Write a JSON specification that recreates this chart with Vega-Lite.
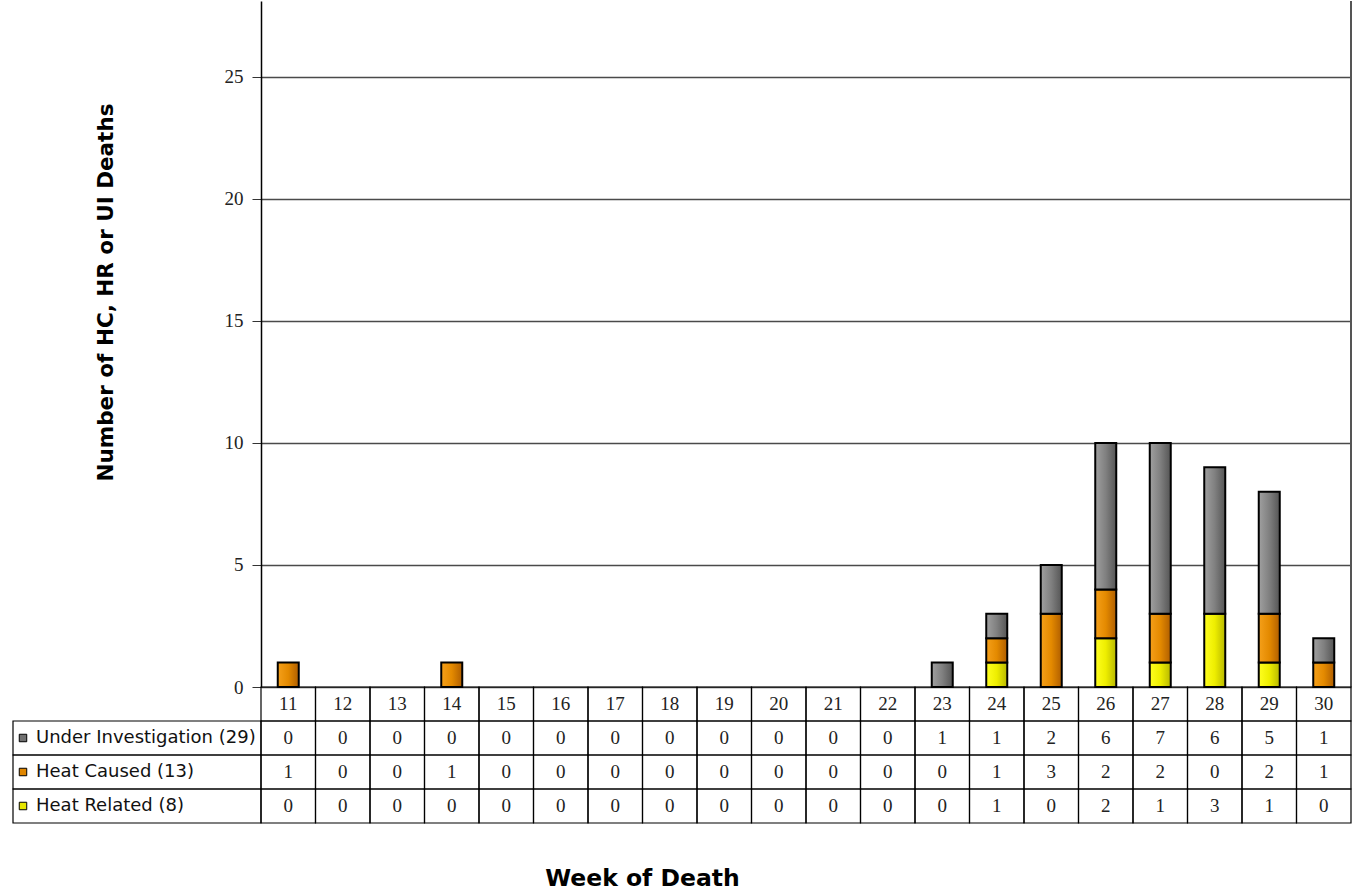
{
  "$schema": "https://vega.github.io/schema/vega-lite/v6.json",
  "background": "white",
  "padding": {"left": 12, "top": 0, "right": 0, "bottom": 0},
  "autosize": {"type": "pad"},
  "config": {"view": {"stroke": null}},
  "datasets": {
    "deaths": [
      {"week": 11, "series": "Under Investigation (29)", "count": 0},
      {"week": 12, "series": "Under Investigation (29)", "count": 0},
      {"week": 13, "series": "Under Investigation (29)", "count": 0},
      {"week": 14, "series": "Under Investigation (29)", "count": 0},
      {"week": 15, "series": "Under Investigation (29)", "count": 0},
      {"week": 16, "series": "Under Investigation (29)", "count": 0},
      {"week": 17, "series": "Under Investigation (29)", "count": 0},
      {"week": 18, "series": "Under Investigation (29)", "count": 0},
      {"week": 19, "series": "Under Investigation (29)", "count": 0},
      {"week": 20, "series": "Under Investigation (29)", "count": 0},
      {"week": 21, "series": "Under Investigation (29)", "count": 0},
      {"week": 22, "series": "Under Investigation (29)", "count": 0},
      {"week": 23, "series": "Under Investigation (29)", "count": 1},
      {"week": 24, "series": "Under Investigation (29)", "count": 1},
      {"week": 25, "series": "Under Investigation (29)", "count": 2},
      {"week": 26, "series": "Under Investigation (29)", "count": 6},
      {"week": 27, "series": "Under Investigation (29)", "count": 7},
      {"week": 28, "series": "Under Investigation (29)", "count": 6},
      {"week": 29, "series": "Under Investigation (29)", "count": 5},
      {"week": 30, "series": "Under Investigation (29)", "count": 1},
      {"week": 11, "series": "Heat Caused (13)", "count": 1},
      {"week": 12, "series": "Heat Caused (13)", "count": 0},
      {"week": 13, "series": "Heat Caused (13)", "count": 0},
      {"week": 14, "series": "Heat Caused (13)", "count": 1},
      {"week": 15, "series": "Heat Caused (13)", "count": 0},
      {"week": 16, "series": "Heat Caused (13)", "count": 0},
      {"week": 17, "series": "Heat Caused (13)", "count": 0},
      {"week": 18, "series": "Heat Caused (13)", "count": 0},
      {"week": 19, "series": "Heat Caused (13)", "count": 0},
      {"week": 20, "series": "Heat Caused (13)", "count": 0},
      {"week": 21, "series": "Heat Caused (13)", "count": 0},
      {"week": 22, "series": "Heat Caused (13)", "count": 0},
      {"week": 23, "series": "Heat Caused (13)", "count": 0},
      {"week": 24, "series": "Heat Caused (13)", "count": 1},
      {"week": 25, "series": "Heat Caused (13)", "count": 3},
      {"week": 26, "series": "Heat Caused (13)", "count": 2},
      {"week": 27, "series": "Heat Caused (13)", "count": 2},
      {"week": 28, "series": "Heat Caused (13)", "count": 0},
      {"week": 29, "series": "Heat Caused (13)", "count": 2},
      {"week": 30, "series": "Heat Caused (13)", "count": 1},
      {"week": 11, "series": "Heat Related (8)", "count": 0},
      {"week": 12, "series": "Heat Related (8)", "count": 0},
      {"week": 13, "series": "Heat Related (8)", "count": 0},
      {"week": 14, "series": "Heat Related (8)", "count": 0},
      {"week": 15, "series": "Heat Related (8)", "count": 0},
      {"week": 16, "series": "Heat Related (8)", "count": 0},
      {"week": 17, "series": "Heat Related (8)", "count": 0},
      {"week": 18, "series": "Heat Related (8)", "count": 0},
      {"week": 19, "series": "Heat Related (8)", "count": 0},
      {"week": 20, "series": "Heat Related (8)", "count": 0},
      {"week": 21, "series": "Heat Related (8)", "count": 0},
      {"week": 22, "series": "Heat Related (8)", "count": 0},
      {"week": 23, "series": "Heat Related (8)", "count": 0},
      {"week": 24, "series": "Heat Related (8)", "count": 1},
      {"week": 25, "series": "Heat Related (8)", "count": 0},
      {"week": 26, "series": "Heat Related (8)", "count": 2},
      {"week": 27, "series": "Heat Related (8)", "count": 1},
      {"week": 28, "series": "Heat Related (8)", "count": 3},
      {"week": 29, "series": "Heat Related (8)", "count": 1},
      {"week": 30, "series": "Heat Related (8)", "count": 0}
    ]
  },
  "width": 1090,
  "height": 686,
  "resolve": {"scale": {"x": "independent", "y": "independent"}},
  "layer": [
    {
      "data": {"name": "deaths"},
      "transform": [
        {"calculate": "indexof(['Heat Related (8)','Heat Caused (13)','Under Investigation (29)'], datum.series)", "as": "k"},
        {"stack": "count", "groupby": ["week"], "sort": [{"field": "k", "order": "ascending"}], "as": ["y0", "y1"]},
        {"filter": "datum.count > 0"}
      ],
      "encoding": {
        "x": {
          "field": "week",
          "type": "ordinal",
          "axis": null,
          "scale": {"domain": [11,12,13,14,15,16,17,18,19,20,21,22,23,24,25,26,27,28,29,30], "paddingInner": 0, "paddingOuter": 0}
        },
        "y": {
          "field": "y1",
          "type": "quantitative",
          "scale": {"domain": [0, 28.11], "nice": false, "zero": true},
          "axis": {
            "values": [0, 5, 10, 15, 20, 25],
            "grid": true,
            "gridColor": "#4a4a4a",
            "gridWidth": 1.5,
            "domainColor": "black",
            "domainWidth": 1.5,
            "tickColor": "#333333",
            "tickSize": 9,
            "tickWidth": 1,
            "labelFont": "Liberation Serif",
            "labelFontSize": 19,
            "labelColor": "#222222",
            "labelPadding": 9,
            "title": "Number of HC, HR or UI Deaths",
            "titleFont": "DejaVu Sans",
            "titleFontSize": 21.5,
            "titleFontWeight": "bold",
            "titleColor": "black",
            "titleAngle": 270,
            "titleAlign": "center",
            "titleBaseline": "middle",
            "titleX": -155,
            "titleY": 291
          }
        },
        "y2": {"field": "y0"}
      },
      "layer": [
        {
          "transform": [{"filter": "datum.k == 0"}],
          "mark": {
            "type": "bar", "size": 21, "stroke": "black", "strokeWidth": 2,
            "fill": {"gradient": "linear", "x1": 0, "y1": 0, "x2": 1, "y2": 0,
              "stops": [{"offset": 0, "color": "#ffff20"}, {"offset": 0.5, "color": "#eeee00"}, {"offset": 1, "color": "#b8b800"}]}
          }
        },
        {
          "transform": [{"filter": "datum.k == 1"}],
          "mark": {
            "type": "bar", "size": 21, "stroke": "black", "strokeWidth": 2,
            "fill": {"gradient": "linear", "x1": 0, "y1": 0, "x2": 1, "y2": 0,
              "stops": [{"offset": 0, "color": "#f5a01a"}, {"offset": 0.5, "color": "#e48a00"}, {"offset": 1, "color": "#b05e00"}]}
          }
        },
        {
          "transform": [{"filter": "datum.k == 2"}],
          "mark": {
            "type": "bar", "size": 21, "stroke": "black", "strokeWidth": 2,
            "fill": {"gradient": "linear", "x1": 0, "y1": 0, "x2": 1, "y2": 0,
              "stops": [{"offset": 0, "color": "#a0a0a0"}, {"offset": 0.5, "color": "#808080"}, {"offset": 1, "color": "#555555"}]}
          }
        }
      ]
    },
    {
      "data": {"values": [{}]},
      "mark": {"type": "rule", "color": "#555555", "strokeWidth": 2},
      "encoding": {
        "x": {
          "datum": 30,
          "type": "ordinal",
          "bandPosition": 1,
          "axis": null,
          "scale": {"domain": [11,12,13,14,15,16,17,18,19,20,21,22,23,24,25,26,27,28,29,30], "paddingInner": 0, "paddingOuter": 0}
        }
      }
    },
    {
      "data": {"name": "deaths"},
      "encoding": {
        "x": {
          "field": "week",
          "type": "ordinal",
          "scale": {"domain": [11,12,13,14,15,16,17,18,19,20,21,22,23,24,25,26,27,28,29,30], "paddingInner": 0, "paddingOuter": 0},
          "axis": {
            "labels": false,
            "ticks": false,
            "domain": false,
            "grid": false,
            "title": "Week of Death",
            "titleFont": "DejaVu Sans",
            "titleFontSize": 23.5,
            "titleFontWeight": "bold",
            "titleColor": "black",
            "titleAlign": "center",
            "titleBaseline": "alphabetic",
            "titleX": 381,
            "titleY": 198
          }
        },
        "y": {
          "field": "series",
          "type": "nominal",
          "axis": null,
          "scale": {"domain": ["Week", "Under Investigation (29)", "Heat Caused (13)", "Heat Related (8)"], "range": [686, 822], "paddingInner": 0, "paddingOuter": 0}
        }
      },
      "layer": [
        {
          "mark": {"type": "rect", "filled": false, "stroke": "black", "strokeWidth": 1.2}
        },
        {
          "mark": {"type": "text", "align": "center", "baseline": "middle", "font": "Liberation Serif", "fontSize": 19, "color": "#222222"},
          "encoding": {"text": {"field": "count", "type": "quantitative"}}
        },
        {
          "transform": [{"filter": "datum.series == 'Heat Related (8)'"}],
          "layer": [
            {
              "mark": {"type": "rect", "filled": false, "stroke": "black", "strokeWidth": 1.2},
              "encoding": {"y": {"datum": "Week", "type": "nominal"}}
            },
            {
              "mark": {"type": "text", "align": "center", "baseline": "middle", "font": "Liberation Serif", "fontSize": 19, "color": "#222222"},
              "encoding": {
                "y": {"datum": "Week", "type": "nominal"},
                "text": {"field": "week", "type": "nominal"}
              }
            }
          ]
        }
      ]
    },
    {
      "data": {"name": "deaths"},
      "transform": [{"filter": "datum.week == 11"}],
      "encoding": {
        "x": {
          "datum": "label",
          "type": "nominal",
          "axis": null,
          "scale": {"domain": ["label"], "range": [-248, 0], "paddingInner": 0, "paddingOuter": 0}
        },
        "y": {
          "field": "series",
          "type": "nominal",
          "axis": null,
          "scale": {"domain": ["Week", "Under Investigation (29)", "Heat Caused (13)", "Heat Related (8)"], "range": [686, 822], "paddingInner": 0, "paddingOuter": 0}
        }
      },
      "layer": [
        {
          "mark": {"type": "rect", "filled": false, "stroke": "black", "strokeWidth": 1.2}
        },
        {
          "mark": {"type": "point", "shape": "square", "filled": true, "stroke": "black", "strokeWidth": 1, "size": 56, "opacity": 1},
          "encoding": {
            "x": {"value": -238},
            "color": {
              "field": "series",
              "type": "nominal",
              "legend": null,
              "scale": {"domain": ["Under Investigation (29)", "Heat Caused (13)", "Heat Related (8)"], "range": ["#707070", "#e08600", "#e6e600"]}
            }
          }
        },
        {
          "mark": {"type": "text", "align": "left", "baseline": "middle", "font": "DejaVu Sans", "fontSize": 18, "color": "#111111"},
          "encoding": {
            "x": {"value": -225},
            "text": {"field": "series"}
          }
        }
      ]
    }
  ]
}
